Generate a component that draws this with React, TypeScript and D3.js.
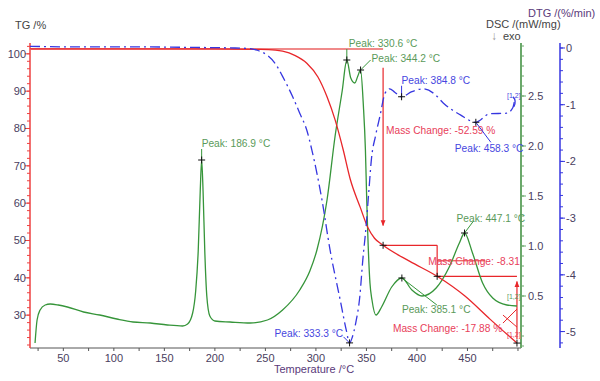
import React from 'react';
import * as d3 from 'd3';

const tempTicks = [50, 100, 150, 200, 250, 300, 350, 400, 450];
const tgTicks = [30, 40, 50, 60, 70, 80, 90, 100];
const dscTicks = [0.5, 1.0, 1.5, 2.0, 2.5];
const dtgTicks = [0, -1, -2, -3, -4, -5];

// TG (%) vs temperature
const tgData: [number, number][] = [
  [17, 101.3], [100, 101.3], [200, 101.3], [245, 101.2], [260, 101.0], [267, 100.7],
  [279, 99.6], [291, 97.5], [302, 93.8], [311, 88.5], [319, 82.3], [327, 74.3],
  [334, 66.4], [344, 58.8], [351.5, 53.4], [358, 50.6], [366.5, 48.71], [393, 44.4],
  [420, 40.4], [447.5, 35.1], [472, 29.0], [499, 22.52],
];

// DTG (%/min)
const dtgData: [number, number][] = [
  [17, 0.03], [60, 0.02], [120, 0.02], [180, 0.01], [220, 0.0], [235, -0.01],
  [242, -0.04], [252, -0.13], [260, -0.28], [267, -0.5], [277, -0.86], [284, -1.15],
  [291, -1.45], [296, -1.8], [306, -2.68], [314, -3.56], [324, -4.44], [330, -4.97],
  [333.3, -5.2], [336, -5.1], [339.4, -4.85], [343.4, -4.39], [346.4, -3.74],
  [349.6, -3.16], [352.5, -2.5], [355, -1.95], [359, -1.55], [363.4, -1.2],
  [368.4, -0.8], [373, -0.72], [378, -0.78], [384.8, -0.86], [395, -0.77],
  [406, -0.72], [418, -0.82], [426, -0.97], [443, -1.18], [458.3, -1.31],
  [472, -1.16], [489, -1.15], [495, -1.05], [497, -0.88],
];

// DSC (mW/mg)
const dscData: [number, number][] = [
  [22, 0.03], [24, 0.26], [27, 0.36], [32, 0.41], [37, 0.42], [45, 0.41], [54, 0.39],
  [70, 0.34], [86, 0.31], [103, 0.27], [119, 0.24], [136, 0.23], [153, 0.21],
  [168, 0.2], [173, 0.22], [178, 0.33], [181, 0.55], [183.5, 0.95], [185.5, 1.55],
  [186.9, 1.86], [188.3, 1.55], [190, 0.95], [192, 0.5], [195, 0.3], [200, 0.25],
  [215, 0.24], [235, 0.23], [252, 0.26], [267, 0.36], [284, 0.56], [294, 0.75],
  [301, 0.96], [311, 1.46], [319, 2.1], [326, 2.55], [330.6, 2.86], [334.5, 2.68],
  [338.5, 2.63], [341.5, 2.7], [344.2, 2.76], [347, 2.4], [349, 1.96], [350.3, 1.46],
  [351.3, 1.13], [353.5, 0.63], [355.5, 0.46], [359.5, 0.31], [365, 0.39],
  [375, 0.59], [385.1, 0.68], [395, 0.56], [405, 0.5], [419, 0.58], [432, 0.79],
  [442, 1.03], [447.1, 1.13], [455, 0.93], [465, 0.63], [475, 0.48], [489, 0.41],
  [499, 0.4],
];

const dscPeaks = [
  { t: 186.9, v: 1.86, label: 'Peak: 186.9 °C' },
  { t: 330.6, v: 2.86, label: 'Peak: 330.6 °C' },
  { t: 344.2, v: 2.76, label: 'Peak: 344.2 °C' },
  { t: 385.1, v: 0.68, label: 'Peak: 385.1 °C' },
  { t: 447.1, v: 1.13, label: 'Peak: 447.1 °C' },
];
const dscLabelPos = [
  { dx: 0, dy: -13, lx: 0, ly: -11 },
  { dx: 2, dy: -13, lx: 0, ly: -11 },
  { dx: 11, dy: -8, lx: 10, ly: -10 },
  { dx: 0, dy: 35, lx: 35, ly: 27 },
  { dx: -8, dy: -11, lx: 9, ly: -12 },
];

const dtgPeaks = [
  { t: 333.3, v: -5.2, label: 'Peak: 333.3 °C' },
  { t: 384.8, v: -0.86, label: 'Peak: 384.8 °C' },
  { t: 458.3, v: -1.31, label: 'Peak: 458.3 °C' },
];
const dtgLabelPos = [
  { dx: -75, dy: -6, lx: -6, ly: -6 },
  { dx: 0, dy: -13, lx: 0, ly: -11 },
  { dx: -21, dy: 30, lx: 15, ly: 20 },
];

const tgStart = 101.3;
const massSteps = [
  { t: 366.5, v: 48.71, label: 'Mass Change: -52.59 %' },
  { t: 420, v: 40.4, label: 'Mass Change: -8.31' },
  { t: 499, v: 22.52, label: 'Mass Change: -17.88 %' },
];

const W = 600, H = 381;
const L = 30, R = 521, T = 43, B = 348;

const x = d3.scaleLinear().domain([17, 503]).range([L, R]);
const yTG = d3.scaleLinear().domain([21.2, 102.9]).range([B, T]);
const yDSC = d3.scaleLinear().domain([-0.02, 3.03]).range([B, T]);
const yDTG = d3.scaleLinear().domain([-5.29, 0.088]).range([B, T]);

const red = '#e8262a';
const green = '#36953a';
const blue = '#3636e0';
const tickCol = '#4a4060';
const font = '"Liberation Sans", Arial, sans-serif';
const lf = 10.2;

function Plus({ cx, cy }: { cx: number; cy: number }) {
  return (
    <path d={`M${cx - 3.5},${cy}H${cx + 3.5}M${cx},${cy - 3.5}V${cy + 3.5}`} stroke="#111" strokeWidth={1} />
  );
}

export default function App() {
  const tgLine = d3.line<[number, number]>().x(d => x(d[0])).y(d => yTG(d[1])).curve(d3.curveMonotoneX);
  const dscLine = d3.line<[number, number]>().x(d => x(d[0])).y(d => yDSC(d[1])).curve(d3.curveMonotoneX);
  const dtgLine = d3.line<[number, number]>().x(d => x(d[0])).y(d => yDTG(d[1])).curve(d3.curveMonotoneX);

  const tMinor = d3.range(25, 501, 25);
  const tgMinor = d3.range(22, 103, 2);
  const dscMinor = d3.range(0, 30.5, 1).map(v => v / 10);
  const dtgMinor = d3.range(-26, 1, 1).map(v => v / 5);

  const m0 = massSteps[0], m1 = massSteps[1], m2 = massSteps[2];

  return (
    <svg width={W} height={H} style={{ position: 'absolute', left: 0, top: 0, background: '#fff' }} fontFamily={font}>
      <defs>
        <marker id="arr" viewBox="0 0 10 10" refX="9" refY="5" markerWidth="5" markerHeight="5" orient="auto-start-reverse">
          <path d="M0,1L10,5L0,9z" fill={red} />
        </marker>
      </defs>

      {/* Bottom axis */}
      <line x1={L} x2={R} y1={B} y2={B} stroke="#555" strokeWidth={1} />
      {tMinor.map(t => (
        <line key={'tm' + t} x1={x(t)} x2={x(t)} y1={B} y2={B + 3} stroke="#555" />
      ))}
      {tempTicks.map(t => (
        <text key={'tt' + t} x={x(t)} y={362} textAnchor="middle" fontSize={11} fill={tickCol}>{t}</text>
      ))}
      <text x={314} y={373} textAnchor="middle" fontSize={11} fill="#5a3a7a">Temperature /°C</text>

      {/* Left TG axis */}
      <line x1={L} x2={L} y1={T} y2={B} stroke="#ee4040" strokeWidth={1.5} />
      {tgMinor.map(v => (
        <line key={'gm' + v} x1={L - 3} x2={L} y1={yTG(v)} y2={yTG(v)} stroke="#ee4040" />
      ))}
      {tgTicks.map(v => (
        <g key={'gt' + v}>
          <line x1={L - 5} x2={L} y1={yTG(v)} y2={yTG(v)} stroke="#ee4040" />
          <text x={26} y={yTG(v) + 4} textAnchor="end" fontSize={11} fill={tickCol}>{v}</text>
        </g>
      ))}
      <text x={15} y={29} fontSize={11} fill="#444">TG /%</text>

      {/* DSC axis */}
      <line x1={R} x2={R} y1={T} y2={B} stroke="#6aa86a" strokeWidth={2} />
      {dscMinor.map(v => (
        <line key={'dm' + v} x1={R} x2={R + 3} y1={yDSC(v)} y2={yDSC(v)} stroke="#6aa86a" />
      ))}
      {dscTicks.map(v => (
        <g key={'dt' + v}>
          <line x1={R} x2={R + 5} y1={yDSC(v)} y2={yDSC(v)} stroke="#6aa86a" />
          <text x={528} y={yDSC(v) + 4} fontSize={11} fill={tickCol}>{v.toFixed(1)}</text>
        </g>
      ))}
      <text x={486} y={28} fontSize={11} fill="#444">DSC /(mW/mg)</text>
      <text x={491} y={40} fontSize={12} fill="#999">↓</text>
      <text x={503} y={40} fontSize={11} fill="#444">exo</text>

      {/* DTG axis */}
      <line x1={560} x2={560} y1={T} y2={B} stroke={blue} strokeWidth={1.5} />
      {dtgMinor.map(v => (
        <line key={'bm' + v} x1={560} x2={563} y1={yDTG(v)} y2={yDTG(v)} stroke={blue} />
      ))}
      {dtgTicks.map(v => (
        <g key={'bt' + v}>
          <line x1={560} x2={565} y1={yDTG(v)} y2={yDTG(v)} stroke={blue} />
          <text x={566} y={yDTG(v) + 4} fontSize={11} fill={tickCol}>{v}</text>
        </g>
      ))}
      <text x={528} y={17} fontSize={11} fill="#5a3a7a">DTG /(%/min)</text>

      {/* Mass change guides */}
      <line x1={x(17)} x2={x(m0.t)} y1={yTG(tgStart)} y2={yTG(tgStart)} stroke="#f08a8a" strokeWidth={2} />
      <line x1={x(m0.t)} x2={x(m0.t)} y1={yTG(96.3)} y2={yTG(54)} stroke={red} strokeWidth={1.2} markerEnd="url(#arr)" />
      <line x1={x(m0.t)} x2={x(m1.t)} y1={yTG(m0.v)} y2={yTG(m0.v)} stroke={red} strokeWidth={1.2} />
      <line x1={x(m1.t)} x2={x(m1.t)} y1={yTG(m0.v)} y2={yTG(m1.v)} stroke={red} strokeWidth={1.2} />
      <line x1={x(m1.t)} x2={x(m2.t)} y1={yTG(m1.v)} y2={yTG(m1.v)} stroke={red} strokeWidth={1.2} />
      <line x1={x(m1.t)} x2={x(m1.t) + 48} y1={yTG((m0.v + m1.v) / 2)} y2={yTG((m0.v + m1.v) / 2)} stroke={red} strokeWidth={1} />
      <line x1={x(m2.t)} x2={x(m2.t)} y1={yTG(23.6)} y2={yTG(39)} stroke={red} strokeWidth={1.2} markerEnd="url(#arr)" />
      <line x1={x(m2.t) - 14} x2={x(m2.t)} y1={yTG(m2.v) - 20} y2={yTG(m2.v) - 34} stroke={red} strokeWidth={1} />
      <line x1={x(m2.t) - 14} x2={x(m2.t)} y1={yTG(m2.v) - 28} y2={yTG(m2.v) - 16} stroke={red} strokeWidth={1} />

      {/* Curves */}
      <path d={dscLine(dscData) || ''} fill="none" stroke={green} strokeWidth={1.3} />
      <path d={tgLine(tgData) || ''} fill="none" stroke={red} strokeWidth={1.3} />
      <path d={dtgLine(dtgData) || ''} fill="none" stroke={blue} strokeWidth={1.3} strokeDasharray="10,4,2,4" />
      <path d={`M${x(495)},${yDTG(-0.86)} q4,4 1,10`} fill="none" stroke={blue} strokeWidth={1.2} />

      {/* Mass change labels */}
      <text x={x(m0.t) + 3} y={134} fontSize={lf} fill="#e8405a">{m0.label}</text>
      <text x={x(m1.t) - 9} y={265} fontSize={lf} fill="#e8405a">{m1.label}</text>
      <text x={x(m2.t) - 124} y={332} fontSize={lf} fill="#e8405a">{m2.label}</text>
      {massSteps.map(m => <Plus key={'mp' + m.t} cx={x(m.t)} cy={yTG(m.v)} />)}

      {/* DSC peaks */}
      {dscPeaks.map((p, i) => {
        const cx = x(p.t), cy = yDSC(p.v), o = dscLabelPos[i];
        return (
          <g key={'dp' + i}>
            <line x1={cx} y1={cy} x2={cx + o.lx} y2={cy + o.ly} stroke={green} strokeWidth={1} />
            <Plus cx={cx} cy={cy} />
            <text x={cx + o.dx} y={cy + o.dy} fontSize={lf} fill="#5a9a5a">{p.label}</text>
          </g>
        );
      })}

      {/* DTG peaks */}
      {dtgPeaks.map((p, i) => {
        const cx = x(p.t), cy = yDTG(p.v), o = dtgLabelPos[i];
        return (
          <g key={'bp' + i}>
            <line x1={cx} y1={cy} x2={cx + o.lx} y2={cy + o.ly} stroke={blue} strokeWidth={1} />
            <Plus cx={cx} cy={cy} />
            <text x={cx + o.dx} y={cy + o.dy} fontSize={lf} fill="#4646e0">{p.label}</text>
          </g>
        );
      })}

      {/* [1,2] tags */}
      <text x={507} y={98} fontSize={7} fill="#4646e0">[1,2]</text>
      <text x={507} y={299} fontSize={7} fill="#5a9a5a">[1,2]</text>
      <text x={507} y={337} fontSize={7} fill="#e8405a">[1,2]</text>
    </svg>
  );
}
